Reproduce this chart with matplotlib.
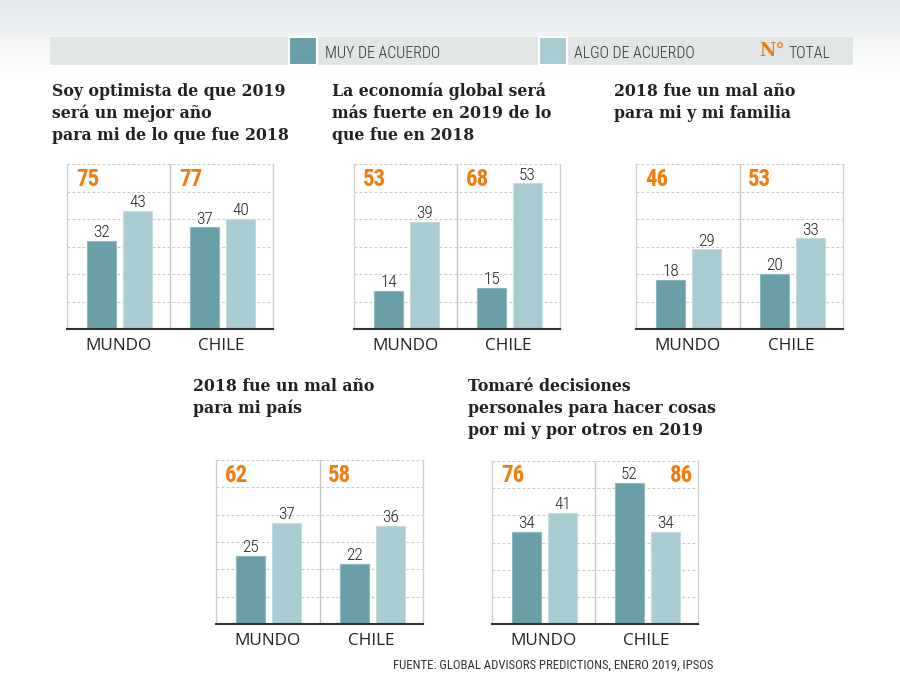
import os
import numpy as np
import matplotlib
matplotlib.use("Agg")
import matplotlib.pyplot as plt
from matplotlib.patches import Rectangle
from matplotlib import font_manager

# ---------------- data ----------------
titles = [
    "Soy optimista de que 2019\nserá un mejor año\npara mi de lo que fue 2018",
    "La economía global será\nmás fuerte en 2019 de lo\nque fue en 2018",
    "2018 fue un mal año\npara mi y mi familia",
    "2018 fue un mal año\npara mi país",
    "Tomaré decisiones\npersonales para hacer cosas\npor mi y por otros en 2019",
]
regions = ["MUNDO", "CHILE"]
muy_mundo = [32, 14, 18, 25, 34]
algo_mundo = [43, 39, 29, 37, 41]
muy_chile = [37, 15, 20, 22, 52]
algo_chile = [40, 53, 33, 36, 34]
total_mundo = [75, 53, 46, 62, 76]
total_chile = [77, 68, 53, 58, 86]
legend_labels = ["MUY DE ACUERDO", "ALGO DE ACUERDO", "TOTAL"]
source = "FUENTE: GLOBAL ADVISORS PREDICTIONS, ENERO 2019, IPSOS"

# ---------------- style ----------------
DARK = "#6a9fa8"
LIGHT = "#a9cbd2"
ORANGE = "#f07c0f"
TXT = "#222222"
SANS = "Open Sans"
SERIF = "DejaVu Serif"

files = {os.path.basename(f.fname): f.fname for f in font_manager.fontManager.ttflist}


def pick(prefs, fallback_family, weight):
    for p in prefs:
        for b, full in files.items():
            if b.startswith(p):
                return font_manager.FontProperties(fname=full)
    return font_manager.FontProperties(family=fallback_family, weight=weight)


REG = pick(["NotoSans-Condensed.", "NotoSans-Condensed-Regular", "LiberationSansNarrow-Regular",
            "RobotoCondensed-Regular", "DejaVuSansCondensed."], "Roboto", "normal")
THIN = pick(["NotoSans-CondensedLight", "RobotoCondensed-Light.", "RobotoCondensed-Light",
             "NotoSans-Condensed.", "LiberationSansNarrow-Regular",
             "RobotoCondensed-Regular", "DejaVuSansCondensed."], "Roboto", "normal")
BOLD = pick(["NotoSans-ExtraCondensedBold", "NotoSans-CondensedBold", "LiberationSansNarrow-Bold",
             "RobotoCondensed-Bold", "DejaVuSansCondensed-Bold"], "Roboto", "bold")


def fp(base, size):
    p = base.copy()
    p.set_size(size)
    return p


W, H = 900, 692
fig = plt.figure(figsize=(W / 100, H / 100), dpi=100)
renderer = fig.canvas.get_renderer()


def fit_size(text, base, target_w, start=12):
    t = fig.text(0, 0, text, fontproperties=fp(base, start))
    w = t.get_window_extent(renderer).width
    t.remove()
    return start * target_w / w


# background / overlay axes in pixel coordinates
bg = fig.add_axes([0, 0, 1, 1])
bg.set_xlim(0, W)
bg.set_ylim(H, 0)
bg.axis("off")
bg.set_zorder(-5)
grad = np.linspace(0, 1, 100)[:, None]
c0 = np.array([0xe3, 0xe7, 0xea]) / 255
c1 = np.array([1.0, 1.0, 1.0])
img = c0[None, None, :] * (1 - grad[..., None]) + c1[None, None, :] * grad[..., None]
bg.imshow(img, extent=(0, W, 75, 0), aspect="auto", zorder=0)

# legend band
bg.add_patch(Rectangle((50, 37), 803, 28, facecolor="#e1e5e6", edgecolor="none", zorder=1))
bg.add_patch(Rectangle((288.5, 36.5), 28.5, 28.5, facecolor=DARK, edgecolor="white", lw=1.5, zorder=2))
bg.add_patch(Rectangle((538.5, 36.5), 28.5, 28.5, facecolor=LIGHT, edgecolor="white", lw=1.5, zorder=2))
lg = min(fit_size(legend_labels[0], THIN, 115), 11.5)
bg.text(325, 53, legend_labels[0], fontproperties=fp(THIN, lg), color="#333333", va="center", ha="left", zorder=3)
bg.text(574, 53, legend_labels[1], fontproperties=fp(THIN, lg), color="#333333", va="center", ha="left", zorder=3)
bg.text(759, 51, "N°", family=SERIF, fontweight="bold", fontsize=13, color=ORANGE, va="center", ha="left", zorder=3)
bg.text(788, 53, legend_labels[2], fontproperties=fp(THIN, lg), color="#333333", va="center", ha="left", zorder=3)

# source
ss = min(fit_size(source, REG, 320), 11)
bg.text(393, 669, source, fontproperties=fp(REG, ss), color="#333333", va="baseline", ha="left")

# panel geometry (pixels): left, top, right, bottom ; title x, title first baseline
panels = [
    (67, 164, 273, 329, 52, 96),
    (354, 164, 560, 329, 332, 96),
    (636, 164, 843, 329, 614, 96),
    (216, 460, 423, 624, 193, 391),
    (492, 461, 698, 624, 468, 391),
]

ts = 16.5
vs = 12.4

YMAX = 60
for i, (l, t, r, b, tx, ty) in enumerate(panels):
    for k, line in enumerate(titles[i].split("\n")):
        bg.text(tx, ty + 22 * k, line, family=SERIF, fontweight="bold", fontsize=11.3,
                color=TXT, va="baseline", ha="left")

    ax = fig.add_axes([l / W, (H - b) / H, (r - l) / W, (b - t) / H])
    ax.set_xlim(0, 2)
    ax.set_ylim(0, YMAX)
    ax.set_facecolor("none")
    for yv in range(10, YMAX + 1, 10):
        ax.axhline(yv, color="#c9c9c9", lw=0.8, dashes=(2.5, 2), zorder=0)
    ax.axvline(1, color="#c4c4c4", lw=1, zorder=0)
    for s in ["left", "right"]:
        ax.spines[s].set_color("#cfcfcf")
        ax.spines[s].set_linewidth(1)
    ax.spines["top"].set_visible(False)
    ax.spines["bottom"].set_color("#333333")
    ax.spines["bottom"].set_linewidth(1.5)
    ax.spines["bottom"].set_zorder(5)
    ax.set_xticks([])
    ax.set_yticks([])

    muy = [muy_mundo[i], muy_chile[i]]
    algo = [algo_mundo[i], algo_chile[i]]
    tot = [total_mundo[i], total_chile[i]]
    for j in range(2):
        xd = j + 0.335
        xl = j + 0.685
        ax.bar(xd, muy[j], width=0.282, color=DARK, edgecolor="#8fbac1", lw=0.8, zorder=2)
        ax.bar(xl, algo[j], width=0.282, color=LIGHT, edgecolor="#c5dde1", lw=0.8, zorder=2)
        ax.text(xd, muy[j] + 1.3, str(muy[j]), fontproperties=fp(THIN, vs), color=TXT,
                ha="center", va="baseline")
        ax.text(xl, algo[j] + 1.3, str(algo[j]), fontproperties=fp(THIN, vs), color=TXT,
                ha="center", va="baseline")
        if muy[j] > 45:
            ax.text(j + 0.955, 54.5, str(tot[j]), fontproperties=fp(BOLD, ts),
                    color=ORANGE, ha="right", va="center")
        else:
            ax.text(j + 0.085, 54.5, str(tot[j]), fontproperties=fp(BOLD, ts),
                    color=ORANGE, ha="left", va="center")
        ax.text(j + 0.5, -6.3, regions[j], family=SANS, fontsize=12.3, color=TXT,
                ha="center", va="center", clip_on=False)

fig.savefig("out.png", dpi=100)
